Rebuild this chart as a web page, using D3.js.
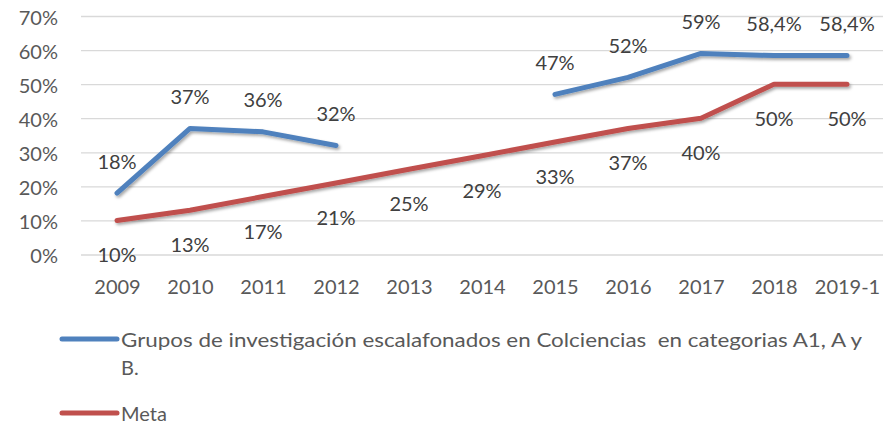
<!DOCTYPE html>
<html><head><meta charset="utf-8">
<script src="https://cdn.jsdelivr.net/npm/d3@7"></script>
<style>body{margin:0;background:#fff;} text{font-family:"Lato","Open Sans",sans-serif;}</style>
</head><body><svg id="c" width="891" height="424"></svg>
<script>
const categories=["2009","2010","2011","2012","2013","2014","2015","2016","2017","2018","2019-1"];
const grupos=[18,37,36,32,null,null,47,52,59,58.4,58.4];
const grupoLabels=["18%","37%","36%","32%","","","47%","52%","59%","58,4%","58,4%"];
const meta=[10,13,17,21,25,29,33,37,40,50,50];
const metaLabels=["10%","13%","17%","21%","25%","29%","33%","37%","40%","50%","50%"];
const yTicks=[0,10,20,30,40,50,60,70];
const seriesNames=["Grupos de investigación escalafonados en Colciencias  en categorias A1, A y","B.","Meta"];

const svg=d3.select("#c");
const x=d3.scalePoint().domain(categories).range([117,847]);
const y=d3.scaleLinear().domain([0,70]).range([254.5,16]);
const defs=svg.append("defs");
const f=defs.append("filter").attr("id","sh").attr("x","-10%").attr("y","-20%").attr("width","120%").attr("height","150%");
f.append("feDropShadow").attr("dx",1.5).attr("dy",2).attr("stdDeviation",1.5).attr("flood-color","#000").attr("flood-opacity",0.35);

const gy=svg.append("g").attr("transform","translate(81,0)")
 .call(d3.axisLeft(y).tickValues(yTicks).tickSize(-802).tickFormat(d=>d+"%").tickPadding(23));
gy.select(".domain").remove();
gy.selectAll(".tick line").attr("stroke","#d9d9d9").attr("stroke-width",1.3);
gy.selectAll(".tick text").attr("fill","#595959").attr("dy",null).attr("y",8).style("font-size","20px");

const gx=svg.append("g").attr("transform","translate(0,254.5)")
 .call(d3.axisBottom(x).tickSize(0).tickPadding(0));
gx.select(".domain").remove();
gx.selectAll(".tick text").attr("fill","#595959").attr("dy",null).attr("y",39.5).style("font-size","20px");

const line=d3.line().defined(d=>d.v!=null).x(d=>x(d.c)).y(d=>y(d.v));
const gd=categories.map((c,i)=>({c,v:grupos[i],l:grupoLabels[i]}));
const md=categories.map((c,i)=>({c,v:meta[i],l:metaLabels[i]}));
svg.append("path").datum(md).attr("d",line).attr("fill","none").attr("stroke","#C0504D").attr("stroke-width",5).attr("stroke-linecap","round").attr("stroke-linejoin","round").attr("filter","url(#sh)");
svg.append("path").datum(gd).attr("d",line).attr("fill","none").attr("stroke","#4F81BD").attr("stroke-width",5).attr("stroke-linecap","round").attr("stroke-linejoin","round").attr("filter","url(#sh)");

svg.append("g").selectAll("text").data(gd.filter(d=>d.v!=null)).join("text")
 .attr("x",d=>x(d.c)).attr("y",d=>y(d.v)-24.5).attr("text-anchor","middle")
 .attr("fill","#404040").style("font-size","20px").text(d=>d.l);
svg.append("g").selectAll("text").data(md).join("text")
 .attr("x",d=>x(d.c)).attr("y",d=>y(d.v)+42).attr("text-anchor","middle")
 .attr("fill","#404040").style("font-size","20px").text(d=>d.l);

const lg=svg.append("g");
lg.append("line").attr("x1",62).attr("x2",117).attr("y1",339).attr("y2",339).attr("stroke","#4F81BD").attr("stroke-width",5).attr("stroke-linecap","round");
lg.append("text").attr("x",121).attr("y",347).attr("fill","#595959").style("font-size","20px").style("white-space","pre")
 .attr("textLength",741).attr("lengthAdjust","spacingAndGlyphs").text(seriesNames[0]);
lg.append("text").attr("x",121).attr("y",375).attr("fill","#595959").style("font-size","20px").text(seriesNames[1]);
lg.append("line").attr("x1",62).attr("x2",117).attr("y1",413).attr("y2",413).attr("stroke","#C0504D").attr("stroke-width",5).attr("stroke-linecap","round");
lg.append("text").attr("x",121).attr("y",421).attr("fill","#595959").style("font-size","20px").text(seriesNames[2]);
</script></body></html>
